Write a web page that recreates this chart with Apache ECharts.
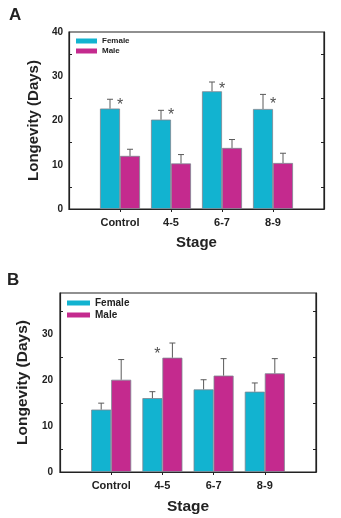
<!DOCTYPE html>
<html>
<head>
<meta charset="utf-8">
<script src="https://cdn.jsdelivr.net/npm/echarts@6/dist/echarts.min.js"></script>
<style>
  html, body { margin: 0; padding: 0; background: #fff; }
  #main { width: 341px; height: 518px; }
</style>
</head>
<body>
<div id="main"></div>
<script>
// stages on the x axis (same for both panels)
var stages = ['Control', '4-5', '6-7', '8-9'];

// panel A: mean longevity and top of error bar
var femaleA = [22.7, 20.2, 26.6, 22.6];
var femaleErrA = [24.8, 22.3, 28.7, 25.9];
var maleA = [12.0, 10.3, 13.8, 10.4];
var maleErrA = [13.5, 12.3, 15.7, 12.6];
var starA = [23.3, 21.0, 26.9, 23.5];

// panel B
var femaleB = [13.6, 16.1, 18.0, 17.5];
var femaleErrB = [15.0, 17.5, 20.1, 19.4];
var maleB = [20.1, 24.9, 21.0, 21.5];
var maleErrB = [24.5, 28.1, 24.7, 24.7];
var starB = [null, 25.5, null, null];

var cyan = '#12b3d0';
var magenta = '#c42a8e';
var ink = '#222';
var font = 'Liberation Sans, Arial, sans-serif';
var barW = 20;

// empty slots at both ends so the stages sit on ticks 1..4 of 5 intervals
var axisCats = [''].concat(stages, ['']);
function pad(arr) { return [null].concat(arr, [null]); }

function errData(vals, tops) {
  return vals.map(function (v, i) { return [i + 1, v, tops[i]]; });
}
function starData(vals) {
  var out = [];
  vals.forEach(function (v, i) { if (v != null) out.push([i + 1, v]); });
  return out;
}

function errorBars(shift, color) {
  return function (params, api) {
    var base = api.coord([api.value(0), api.value(1)]);
    var top = api.coord([api.value(0), api.value(2)]);
    var x = base[0] + shift;
    var style = { stroke: color, lineWidth: 1 };
    return {
      type: 'group',
      children: [
        { type: 'line', shape: { x1: x, y1: base[1], x2: x, y2: top[1] }, style: style },
        { type: 'line', shape: { x1: x - 3, y1: top[1], x2: x + 3, y2: top[1] }, style: style }
      ]
    };
  };
}

function xAxisFor(g, fs, gap) {
  return {
    type: 'category', gridIndex: g, data: axisCats, boundaryGap: false,
    axisLine: { lineStyle: { color: ink, width: 1.2 } },
    axisTick: { length: 3, lineStyle: { color: ink },
      interval: function (i) { return i > 0 && i < axisCats.length - 1; } },
    axisLabel: { color: ink, fontFamily: font, fontWeight: 'bold', fontSize: 11, margin: 8,
      interval: 0 },
    name: 'Stage', nameLocation: 'middle', nameGap: gap,
    nameTextStyle: { color: ink, fontFamily: font, fontWeight: 'bold', fontSize: fs }
  };
}

function yAxesFor(g, max, fs, gap, margin) {
  var common = {
    type: 'value', gridIndex: g, min: 0, max: max, interval: 10,
    axisLine: { show: true, lineStyle: { color: ink, width: 1.2 } },
    axisTick: { inside: true, length: 5, lineStyle: { color: ink } },
    minorTick: { show: true, splitNumber: 2, length: 3, lineStyle: { color: ink } },
    splitLine: { show: false }
  };
  var left = Object.assign({}, common, {
    position: 'left',
    axisLabel: { color: ink, fontFamily: font, fontWeight: 'bold', fontSize: 10, margin: margin,
      formatter: function (v) { return v % 10 === 0 ? v : ''; } },
    name: 'Longevity (Days)', nameLocation: 'middle', nameRotate: 90, nameGap: gap,
    nameTextStyle: { color: ink, fontFamily: font, fontWeight: 'bold', fontSize: fs }
  });
  var right = Object.assign({}, common, { position: 'right', axisLabel: { show: false } });
  return [left, right];
}

function panelSeries(g, fem, femErr, mal, malErr, stars, starShift) {
  var barStyle = function (c) { return { color: c, borderColor: '#7d8590', borderWidth: 0.8 }; };
  return [
    { name: 'Female', type: 'bar', xAxisIndex: g, yAxisIndex: g * 2, data: pad(fem),
      barWidth: barW, barGap: '0%', itemStyle: barStyle(cyan) },
    { name: 'Male', type: 'bar', xAxisIndex: g, yAxisIndex: g * 2, data: pad(mal),
      barWidth: barW, barGap: '0%', itemStyle: barStyle(magenta) },
    { type: 'custom', xAxisIndex: g, yAxisIndex: g * 2, data: errData(fem, femErr),
      renderItem: errorBars(-barW / 2, '#5a5a5a'), z: 3, silent: true },
    { type: 'custom', xAxisIndex: g, yAxisIndex: g * 2, data: errData(mal, malErr),
      renderItem: errorBars(barW / 2, '#5a5a5a'), z: 3, silent: true },
    { type: 'scatter', xAxisIndex: g, yAxisIndex: g * 2, data: starData(stars),
      symbolSize: 0, silent: true, z: 4,
      label: { show: true, position: 'inside', formatter: '*', offset: [starShift, 0],
        color: ink, fontFamily: font, fontSize: 16 } }
  ];
}

var myChart = echarts.init(document.getElementById('main'));

var option = {
  animation: false,
  backgroundColor: '#fff',
  title: [
    { text: 'A', left: 9, top: 7, padding: 0,
      textStyle: { fontFamily: font, fontWeight: 'bold', fontSize: 17, color: ink } },
    { text: 'B', left: 7, top: 272, padding: 0,
      textStyle: { fontFamily: font, fontWeight: 'bold', fontSize: 17, color: ink } }
  ],
  legend: [
    { left: 76, top: 36, padding: 0, orient: 'vertical', itemWidth: 21, itemHeight: 5, itemGap: 0,
      icon: 'rect', data: ['Female', 'Male'], itemStyle: { borderWidth: 0 },
      textStyle: { fontFamily: font, fontWeight: 'bold', fontSize: 8, lineHeight: 10, color: ink } },
    { left: 67, top: 297, padding: 0, orient: 'vertical', itemWidth: 23, itemHeight: 5, itemGap: 0,
      icon: 'rect', data: ['Female', 'Male'], itemStyle: { borderWidth: 0 },
      textStyle: { fontFamily: font, fontWeight: 'bold', fontSize: 10, lineHeight: 12, color: ink } }
  ],
  grid: [
    { left: 69, top: 32, width: 255, height: 177, show: true, borderColor: ink, borderWidth: 1.2 },
    { left: 60, top: 293, width: 256, height: 179, show: true, borderColor: ink, borderWidth: 1.2 }
  ],
  xAxis: [xAxisFor(0, 15, 26), xAxisFor(1, 15.5, 27)],
  yAxis: yAxesFor(0, 40, 15, 23, 6).concat(yAxesFor(1, 39, 15.5, 23, 7)),
  series: panelSeries(0, femaleA, femaleErrA, maleA, maleErrA, starA, 0)
    .concat(panelSeries(1, femaleB, femaleErrB, maleB, maleErrB, starB, -5))
};
myChart.setOption(option);
</script>
</body>
</html>
